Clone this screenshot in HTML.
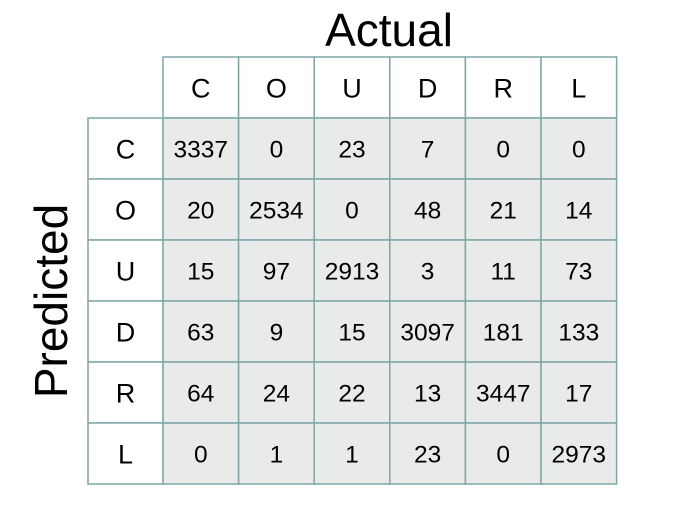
<!DOCTYPE html>
<html><head><meta charset="utf-8"><style>
body{margin:0;background:#fff;width:681px;height:500px;overflow:hidden;font-family:"Liberation Sans",sans-serif}
svg text{font-family:"Liberation Sans",sans-serif}
</style></head><body>
<svg id="c" width="681" height="500">
<text x="389" y="46" font-size="46" text-anchor="middle" fill="#000">Actual</text>
<text transform="translate(67,301) rotate(-90)" font-size="46" text-anchor="middle" fill="#000">Predicted</text>
</svg>
<script>
const labels=["C","O","U","D","R","L"];
const values=[
[3337,0,23,7,0,0],
[20,2534,0,48,21,14],
[15,97,2913,3,11,73],
[63,9,15,3097,181,133],
[64,24,22,13,3447,17],
[0,1,1,23,0,2973]];
const svg=document.getElementById('c');
const NS='http://www.w3.org/2000/svg';
const x0=163,cw=75.6,y0=118,rh=61,hx=88,hy=57;
const colX=i=>x0+i*cw, rowY=i=>y0+i*rh;
const stroke='#7fa6a6';
function rect(x,y,w,h,fill){const r=document.createElementNS(NS,'rect');r.setAttribute('x',x);r.setAttribute('y',y);r.setAttribute('width',w);r.setAttribute('height',h);r.setAttribute('fill',fill);r.setAttribute('stroke',stroke);r.setAttribute('stroke-width','1.5');svg.appendChild(r);return r;}
function txt(x,y,s,fs){const t=document.createElementNS(NS,'text');t.setAttribute('x',x);t.setAttribute('y',y);t.setAttribute('font-size',fs);t.setAttribute('text-anchor','middle');t.textContent=s;svg.appendChild(t);return t;}
labels.forEach((l,i)=>{
 const r=rect(colX(i),hy,cw,y0-hy,'#fff');
 
 
 const t=txt(colX(i)+cw/2,hy+(y0-hy)/2+10,l,27);
 
 
 const r2=rect(hx,rowY(i),x0-hx,rh,'#fff');
 
 
 const t2=txt(hx+(x0-hx)/2,rowY(i)+rh/2+10,l,27);
 
 
});
values.forEach((row,i)=>row.forEach((v,j)=>{
 const r=rect(colX(j),rowY(i),cw,rh,'#e9ebea');
 
 
 const t=txt(colX(j)+cw/2,rowY(i)+rh/2+9,String(v),24.5);
 
 
}));
</script>
</body></html>
